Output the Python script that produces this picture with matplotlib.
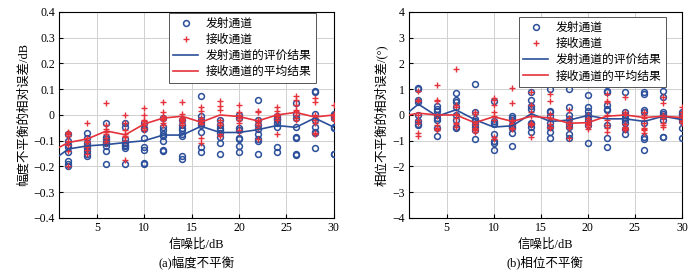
import numpy as np
import matplotlib.pyplot as plt

plt.rcParams['font.family'] = ['Liberation Serif', 'Noto Sans CJK SC']
plt.rcParams['axes.unicode_minus'] = True

SNR = np.arange(2, 31, 2)
SNR_LINE = np.arange(0, 31, 2)
BLUE = '#2b4f9a'
RED = '#e5323b'

LABELS = ['发射通道', '接收通道', '发射通道的评价结果', '接收通道的平均结果']

# amplitude imbalance (dB), one list per SNR
AMP_TX = [
    [-0.20, -0.19, -0.18, -0.145, -0.125, -0.115, -0.10, -0.075],
    [-0.07, -0.09, -0.11, -0.12, -0.13, -0.14, -0.15, -0.16],
    [-0.03, -0.085, -0.095, -0.11, -0.12, -0.14, -0.19, -0.105],
    [-0.03, -0.045, -0.095, -0.11, -0.12, -0.13, -0.19, -0.115],
    [-0.03, -0.05, -0.09, -0.125, -0.135, -0.185, -0.19, -0.055],
    [-0.01, -0.045, -0.06, -0.075, -0.08, -0.10, -0.135, -0.14],
    [-0.02, -0.04, -0.06, -0.075, -0.08, -0.16, -0.17, -0.05],
    [0.075, -0.005, -0.02, -0.03, -0.065, -0.125, -0.145, -0.04],
    [-0.02, -0.04, -0.05, -0.06, -0.07, -0.085, -0.11, -0.15],
    [0.0, -0.01, -0.05, -0.06, -0.09, -0.095, -0.12, -0.145],
    [0.06, -0.02, -0.04, -0.055, -0.075, -0.095, -0.10, -0.15],
    [-0.01, -0.015, -0.02, -0.045, -0.125, -0.145, -0.005, -0.03],
    [0.045, 0.005, -0.01, -0.045, -0.085, -0.09, -0.15, -0.155],
    [0.095, 0.09, 0.005, -0.045, -0.065, -0.07, -0.13, -0.02],
    [0.005, 0.0, -0.005, -0.045, -0.05, -0.15, -0.15, -0.01],
]
AMP_RX = [
    [-0.07, -0.075, -0.08, -0.10, -0.115, -0.14, -0.20, -0.065],
    [-0.03, -0.09, -0.10, -0.115, -0.125, -0.135, -0.15, -0.105],
    [0.048, -0.04, -0.055, -0.065, -0.09, -0.10, -0.11, -0.075],
    [0.0, -0.03, -0.06, -0.075, -0.08, -0.10, -0.175, -0.085],
    [0.028, 0.0, -0.02, -0.03, -0.04, -0.06, -0.05, -0.025],
    [0.052, 0.012, -0.005, -0.01, -0.02, -0.03, -0.04, -0.015],
    [0.05, 0.005, -0.01, -0.02, -0.03, -0.04, -0.015, -0.025],
    [0.03, 0.015, -0.01, -0.02, -0.03, -0.09, -0.11, -0.035],
    [0.055, 0.035, 0.02, -0.02, -0.03, -0.08, -0.075, -0.04],
    [0.04, 0.01, 0.0, -0.01, -0.02, -0.03, -0.06, -0.065],
    [0.015, 0.01, -0.02, -0.03, -0.04, -0.05, -0.095, -0.025],
    [0.032, 0.015, 0.005, 0.0, -0.01, -0.02, -0.075, -0.005],
    [0.075, 0.06, 0.04, 0.02, 0.0, -0.01, -0.02, 0.015],
    [0.065, 0.05, 0.0, -0.02, -0.03, -0.07, -0.075, -0.01],
    [0.04, 0.005, 0.0, -0.005, -0.01, -0.02, -0.005, 0.0],
]
AMP_TX_LINE = [-0.185, -0.132, -0.12, -0.115, -0.107, -0.10, -0.078, -0.078,
               -0.044, -0.068, -0.068, -0.057, -0.041, -0.048, -0.012, -0.047]
AMP_RX_LINE = [-0.145, -0.107, -0.093, -0.062, -0.077, -0.035, -0.012, -0.005,
               -0.028, 0.0, -0.006, -0.023, 0.0, 0.01, -0.008, 0.0]

# phase imbalance (deg)
PH_TX = [
    [1.05, 1.0, 0.6, 0.5, 0.0, -0.25, -0.4, -0.35],
    [0.35, 0.25, 0.15, 0.0, -0.1, -0.2, -0.5, -0.8],
    [0.85, 0.6, 0.5, 0.3, 0.0, -0.2, -0.45, -0.5],
    [1.2, 0.1, -0.15, -0.25, -0.35, -0.45, -0.6, -0.95],
    [0.55, -0.25, -0.3, -0.35, -0.75, -1.0, -1.1, -1.35],
    [-0.05, -0.1, -0.2, -0.4, -0.45, -0.5, -0.7, -1.2],
    [0.9, 0.6, 0.35, 0.25, -0.3, -0.35, -0.45, -0.65],
    [1.0, 0.15, 0.1, -0.05, -0.3, -0.45, -0.65, -0.9],
    [1.0, 0.3, 0.0, -0.15, -0.35, -0.45, -0.75, -0.9],
    [0.78, 0.3, 0.15, 0.0, -0.1, -0.25, -0.4, -1.1],
    [0.95, 0.9, 0.4, 0.25, 0.2, -0.4, -0.9, -1.25],
    [0.9, 0.1, 0.0, -0.1, -0.2, -0.3, -0.55, -0.75],
    [0.9, 0.8, 0.2, 0.1, -0.3, -0.85, -0.95, -1.35],
    [0.95, 0.7, 0.1, 0.05, -0.05, -0.2, -0.85, -0.85],
    [0.1, 0.05, 0.0, -0.15, -0.25, -0.5, -0.9, -0.1],
]
PH_RX = [
    [0.95, 0.6, 0.55, 0.0, -0.2, -0.3, -0.7, -0.8],
    [1.15, 0.6, 0.55, -0.05, -0.4, -0.5, -0.55, -0.6],
    [1.8, 0.4, 0.3, 0.05, -0.1, -0.3, -0.35, -0.45],
    [0.1, 0.05, -0.3, -0.4, -0.5, -0.55, -0.6, -0.65],
    [0.65, 0.6, 0.4, 0.1, -0.05, -0.2, -0.85, -0.95],
    [1.05, 0.45, -0.2, -0.3, -0.35, -0.4, -0.5, -0.55],
    [0.9, 0.4, 0.1, -0.05, -0.3, -0.35, -0.4, -0.85],
    [0.8, 0.55, 0.05, -0.1, -0.2, -0.35, -0.45, -0.5],
    [0.2, -0.1, -0.2, -0.3, -0.4, -0.45, -0.5, -0.9],
    [0.0, -0.1, -0.2, -0.3, -0.35, -0.4, -0.45, -0.55],
    [0.8, 0.55, 0.5, 0.0, -0.2, -0.4, -0.5, -0.65],
    [0.7, 0.1, 0.05, -0.35, -0.45, -0.5, -0.55, -0.6],
    [0.1, 0.0, -0.1, -0.3, -0.5, -0.55, -0.6, -0.7],
    [0.7, 0.45, 0.0, -0.05, -0.1, -0.3, -0.4, -0.45],
    [0.3, 0.1, 0.0, -0.1, -0.15, -0.2, -0.25, -0.3],
]
PH_TX_LINE = [-0.18, 0.42, -0.05, 0.2, -0.18, -0.47, -0.42, 0.05,
              -0.25, -0.2, -0.02, -0.15, -0.15, -0.25, -0.05, -0.18]
PH_RX_LINE = [-0.07, 0.07, 0.0, 0.0, -0.3, -0.07, -0.25, -0.05,
              -0.12, -0.32, -0.3, -0.05, 0.0, -0.1, -0.05, -0.1]


def draw_panel(ax, tx, rx, tx_line, rx_line, ylim, step, ylabel, caption, leg_anchor):
    for i, x in enumerate(SNR):
        ax.plot([x] * len(tx[i]), tx[i], 'o', ls='none', mfc='none', mec=BLUE,
                ms=4.2, mew=1.1, zorder=3,
                label=LABELS[0] if i == 0 else None)
    for i, x in enumerate(SNR):
        ax.plot([x] * len(rx[i]), rx[i], '+', ls='none', color=RED,
                ms=4.5, mew=1.0, zorder=4,
                label=LABELS[1] if i == 0 else None)
    ax.plot(SNR_LINE, tx_line, color=BLUE, lw=1.2, zorder=5, label=LABELS[2])
    ax.plot(SNR_LINE, rx_line, color=RED, lw=1.2, zorder=5, label=LABELS[3])

    ax.set_xlim(1, 30)
    ax.set_ylim(*ylim)
    ax.set_xticks([5, 10, 15, 20, 25, 30])
    ax.set_yticks(np.arange(ylim[0], ylim[1] + step / 2, step))
    ax.grid(True, color='#d0d0d0', lw=0.7)
    ax.set_axisbelow(True)
    ax.tick_params(direction='in', labelsize=8.5, length=3, pad=3)
    for s in ax.spines.values():
        s.set_linewidth(0.8)
    ax.set_xlabel('信噪比/dB', fontsize=9, labelpad=3)
    ax.set_ylabel(ylabel, fontsize=9, labelpad=3)
    ax.text(0.5, -0.215, caption, transform=ax.transAxes, ha='center',
            va='center', fontsize=9)
    leg = ax.legend(loc='upper right', bbox_to_anchor=leg_anchor, fontsize=8.5,
                    frameon=True, fancybox=False, edgecolor='#555555',
                    framealpha=1, borderpad=0.4, labelspacing=0.35,
                    handlelength=2.1, handletextpad=0.6, borderaxespad=0)
    leg.get_frame().set_linewidth(0.7)


fig = plt.figure(figsize=(6.99, 2.74), dpi=100)
ax1 = fig.add_axes([0.0844, 0.2044, 0.393, 0.752])
ax2 = fig.add_axes([0.585, 0.2044, 0.3906, 0.752])

draw_panel(ax1, AMP_TX, AMP_RX, AMP_TX_LINE, AMP_RX_LINE, (-0.4, 0.4), 0.1,
           '幅度不平衡的相对误差/dB', '(a)幅度不平衡', (0.935, 0.994))
ax1.yaxis.set_major_formatter(plt.FuncFormatter(
    lambda v, p: '0' if abs(v) < 1e-9 else f'{v:.1f}'.replace('-', '\u2212')))
draw_panel(ax2, PH_TX, PH_RX, PH_TX_LINE, PH_RX_LINE, (-4, 4), 1,
           '相位不平衡的相对误差/(°)', '(b)相位不平衡', (0.941, 0.974))

fig.savefig('out.png', dpi=100)
